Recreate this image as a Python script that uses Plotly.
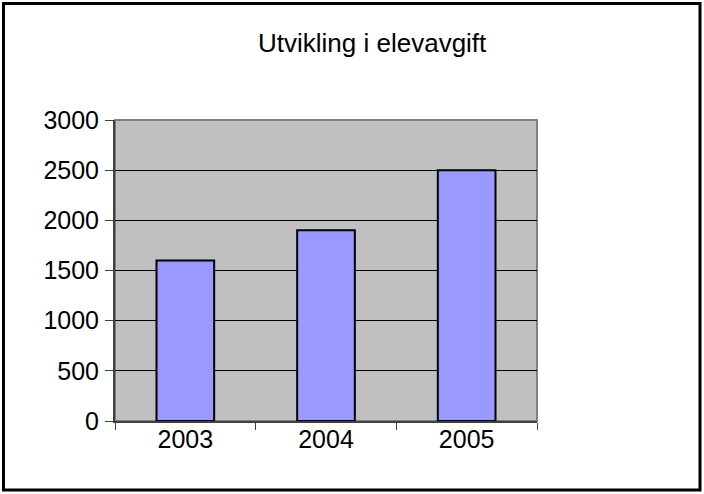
import plotly.graph_objects as go

years = ["2003", "2004", "2005"]
values = [1600, 1900, 2500]
y_ticks = [0, 500, 1000, 1500, 2000, 2500, 3000]
title_text = "Utvikling i elevavgift"

W, H = 704, 494
L, R, T, B = 115, 537, 120, 421

def px(x):
    return (x - L) / (R - L)

def py(y):
    return (B - y) / (B - T)

fig = go.Figure(go.Bar(
    x=years, y=values,
    marker=dict(color="#9999FF", line=dict(color="black", width=2)),
))

fig.update_layout(
    width=W, height=H,
    margin=dict(l=L, r=W - R, t=T, b=H - B, pad=0),
    paper_bgcolor="white",
    plot_bgcolor="#C0C0C0",
    bargap=0.59,
    showlegend=False,
    font=dict(family="Liberation Sans, Arial, sans-serif", size=25, color="black"),
    annotations=[dict(
        text=title_text, xref="paper", yref="paper",
        x=px(372), y=py(43), xanchor="center", yanchor="middle",
        showarrow=False, font=dict(size=26, color="black"),
    )],
    shapes=[
        dict(type="rect", xref="paper", yref="paper", x0=0, x1=1, y0=0, y1=1,
             line=dict(color="#808080", width=2), layer="below"),
        dict(type="rect", xref="paper", yref="paper",
             x0=px(3.5), x1=px(700), y0=py(490), y1=py(3.5),
             line=dict(color="black", width=3)),
    ],
)

fig.update_yaxes(
    range=[0, 3000], tickvals=y_ticks, showgrid=True, gridcolor="black", gridwidth=1,
    showline=True, linecolor="#404040", linewidth=2, ticks="outside", ticklen=8,
    tickcolor="#404040", zeroline=False, ticklabelstandoff=1,
)
fig.update_xaxes(
    showgrid=False, showline=True, linecolor="#404040", linewidth=2,
    ticks="outside", ticklen=7, tickcolor="#404040", tickson="boundaries",
    ticklabelstandoff=-5,
)

fig.write_html("out.html", config={"displayModeBar": False},
               post_script="document.body.style.margin='0';")
